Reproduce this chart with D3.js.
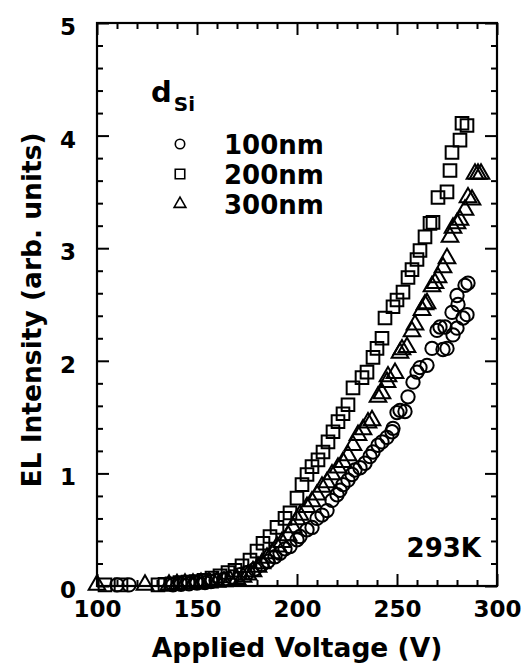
<!DOCTYPE html>
<html>
<head>
<meta charset="utf-8">
<script src="https://cdn.jsdelivr.net/npm/d3@7"></script>
<style>
  html, body { margin: 0; padding: 0; background: #fff; }
  svg { display: block; }
  text { font-family: "DejaVu Sans", "Liberation Sans", Arial, sans-serif; font-weight: bold; fill: #000; }
</style>
</head>
<body>
<svg id="chart" width="525" height="672"></svg>
<script>
// EL intensity vs applied voltage for three Si layer thicknesses (293 K)
const xTicks = [100, 150, 200, 250, 300];
const yTicks = [0, 1, 2, 3, 4, 5];
const seriesNames = ["100nm", "200nm", "300nm"];
const seriesShapes = ["circle", "square", "triangle"];

// d_Si = 100 nm  [V, intensity]
const data100 = [
  [110,0.01],[116,0.01],[138,0.01],[142,0.015],[146,0.02],[150,0.025],[154,0.03],[157,0.04],
  [159.5,0.05],[163.5,0.06],[167.5,0.08],[171.5,0.10],[175.5,0.12],[179,0.15],[182.5,0.19],
  [185.5,0.22],[189,0.26],[191.5,0.29],[194,0.33],[196.5,0.35],[200,0.41],[201.5,0.44],
  [205,0.50],[207.5,0.52],[210,0.60],[212.5,0.63],[215,0.67],[217.5,0.76],[220,0.81],
  [221.5,0.85],[223,0.90],[225.5,0.94],[227.5,0.99],[229,1.03],[231.5,1.05],[234,1.09],
  [236.5,1.15],[238,1.19],[240.5,1.25],[242.5,1.28],[245,1.32],[247.5,1.37],[248,1.40],
  [250,1.54],[251.5,1.56],[254,1.55],[255.5,1.68],[258,1.81],[260,1.90],[261.5,1.94],
  [265,1.96],[267.5,2.11],[270,2.27],[271.5,2.30],[273,2.10],[274,2.30],[275,2.11],
  [277.5,2.43],[278,2.23],[280,2.29],[280,2.58],[280.5,2.50],[283,2.38],[284,2.67],
  [285,2.41],[285.5,2.69]
];

// d_Si = 200 nm
const data200 = [
  [104,0.01],[112,0.01],[130.5,0.01],[134,0.015],[137.5,0.02],[141.5,0.03],[145.5,0.035],
  [149.5,0.04],[153.5,0.05],[157.5,0.07],[161.5,0.09],[165.5,0.12],[169,0.14],[172.5,0.18],
  [176.5,0.23],[180,0.31],[183,0.38],[186.5,0.44],[190,0.52],[194,0.60],[196.5,0.65],
  [200,0.78],[202.5,0.90],[205,0.99],[207.5,1.06],[210.5,1.12],[213,1.19],[215.5,1.28],
  [218,1.37],[220.5,1.46],[223,1.53],[225.5,1.61],[228,1.76],[232.5,1.85],[235,1.90],
  [238,2.03],[240,2.11],[242.5,2.20],[244,2.38],[248,2.48],[250,2.54],[253,2.61],
  [255.5,2.74],[257.5,2.81],[260,2.90],[261.5,2.98],[264,3.10],[266.5,3.22],[268,3.23],
  [270.5,3.45],[275,3.50],[276.5,3.69],[277.5,3.85],[281.5,3.96],[282.5,4.11],[285,4.09]
];

// d_Si = 300 nm
const data300 = [
  [100,0.01],[124,0.01],[136,0.01],[140,0.015],[144,0.02],[148,0.02],[152,0.025],[156,0.03],
  [160,0.035],[163.5,0.04],[166.5,0.05],[170,0.06],[173,0.08],[175.5,0.10],[178,0.13],
  [180.5,0.17],[182.5,0.20],[185,0.25],[187.5,0.29],[190,0.35],[192.5,0.39],[195.5,0.45],
  [198,0.52],[200,0.59],[201.5,0.63],[205,0.70],[207.5,0.75],[210,0.81],[212.5,0.88],
  [215,0.92],[217.5,0.99],[220.5,1.05],[223,1.10],[225.5,1.16],[228,1.25],[230.5,1.34],
  [233,1.39],[235.5,1.45],[237.5,1.47],[240.5,1.68],[242.5,1.71],[245,1.81],[245.5,1.86],
  [249,1.89],[251.5,2.07],[252.5,2.10],[255,2.12],[257.5,2.26],[259,2.32],[262.5,2.45],
  [264,2.50],[265,2.51],[267.5,2.66],[269,2.69],[270.5,2.74],[273,2.83],[275,2.91],
  [276.5,3.10],[278,3.18],[280,3.22],[281.5,3.25],[284,3.34],[285.5,3.45],[287.5,3.43],
  [289,3.66],[290.5,3.66],[292,3.66]
];

const seriesData = [data100, data200, data300];

const svg = d3.select("#chart");
const plot = { left: 97, right: 497, top: 23, bottom: 586 };

const x = d3.scaleLinear().domain([100, 300]).range([plot.left, plot.right]);
const y = d3.scaleLinear().domain([0, 5]).range([plot.bottom, plot.top]);

const minorX = d3.range(100, 301, 10).filter(v => v % 50 !== 0);
const minorY = d3.range(0, 5.01, 0.2).map(v => +v.toFixed(1)).filter(v => Math.abs(v - Math.round(v)) > 1e-6);

function styleAxis(g) {
  g.select(".domain").remove();
  g.selectAll(".tick line").attr("stroke", "#000").attr("stroke-width", 2);
}

// ticks on all four sides, pointing inward
svg.append("g").attr("transform", `translate(0,${plot.bottom})`)
  .call(d3.axisBottom(x).tickValues(xTicks).tickSize(-12).tickPadding(17).tickFormat(d3.format("d")))
  .call(styleAxis)
  .call(g => g.selectAll("text").attr("font-size", 23).attr("dy", "0.62em"));
svg.append("g").attr("transform", `translate(0,${plot.bottom})`)
  .call(d3.axisBottom(x).tickValues(minorX).tickSize(-6).tickFormat(""))
  .call(styleAxis);
svg.append("g").attr("transform", `translate(0,${plot.top})`)
  .call(d3.axisTop(x).tickValues(xTicks).tickSize(-12).tickFormat(""))
  .call(styleAxis);
svg.append("g").attr("transform", `translate(0,${plot.top})`)
  .call(d3.axisTop(x).tickValues(minorX).tickSize(-6).tickFormat(""))
  .call(styleAxis);

svg.append("g").attr("transform", `translate(${plot.left},0)`)
  .call(d3.axisLeft(y).tickValues(yTicks).tickSize(-12).tickPadding(21).tickFormat(d3.format("d")))
  .call(styleAxis)
  .call(g => g.selectAll("text").attr("font-size", 23).attr("dy", "0.5em"));
svg.append("g").attr("transform", `translate(${plot.left},0)`)
  .call(d3.axisLeft(y).tickValues(minorY).tickSize(-6).tickFormat(""))
  .call(styleAxis);
svg.append("g").attr("transform", `translate(${plot.right},0)`)
  .call(d3.axisRight(y).tickValues(yTicks).tickSize(-12).tickFormat(""))
  .call(styleAxis);
svg.append("g").attr("transform", `translate(${plot.right},0)`)
  .call(d3.axisRight(y).tickValues(minorY).tickSize(-6).tickFormat(""))
  .call(styleAxis);

// frame
svg.append("rect")
  .attr("x", plot.left).attr("y", plot.top)
  .attr("width", plot.right - plot.left).attr("height", plot.bottom - plot.top)
  .attr("fill", "none").attr("stroke", "#000").attr("stroke-width", 2.2);

// markers
const symbolType = { circle: d3.symbolCircle, square: d3.symbolSquare, triangle: d3.symbolTriangle };
const symbolSize = { circle: 140, square: 160, triangle: 120 };

seriesData.forEach((pts, i) => {
  const shape = seriesShapes[i];
  const gen = d3.symbol().type(symbolType[shape]).size(symbolSize[shape]);
  svg.append("g").attr("class", "series-" + seriesNames[i])
    .selectAll("path").data(pts).join("path")
    .attr("transform", d => `translate(${x(d[0])},${y(d[1])})`)
    .attr("d", gen)
    .attr("fill", "none").attr("stroke", "#000").attr("stroke-width", 2);
});

// legend
const legend = svg.append("g");
const dsi = legend.append("text").attr("x", 151).attr("y", 102).attr("font-size", 29);
dsi.append("tspan").text("d");
dsi.append("tspan").attr("font-size", 20).attr("dy", 9).attr("dx", 2).text("Si");

const legendSize = { circle: 70, square: 90, triangle: 60 };
seriesNames.forEach((name, i) => {
  const shape = seriesShapes[i];
  const cy = 144 + i * 30;
  legend.append("path")
    .attr("transform", `translate(180,${cy})`)
    .attr("d", d3.symbol().type(symbolType[shape]).size(legendSize[shape])())
    .attr("fill", "none").attr("stroke", "#000").attr("stroke-width", 1.6);
  legend.append("text").attr("x", 224).attr("y", cy + 10)
    .attr("font-size", 26).text(name);
});

// temperature label
svg.append("text").attr("x", 481).attr("y", 557).attr("text-anchor", "end")
  .attr("font-size", 26).text("293K");

// axis titles
svg.append("text").attr("x", 297).attr("y", 657).attr("text-anchor", "middle")
  .attr("font-size", 26.5).text("Applied Voltage (V)");
svg.append("text").attr("transform", "translate(41,310) rotate(-90)").attr("text-anchor", "middle")
  .attr("font-size", 26.5).text("EL Intensity (arb. units)");
</script>
</body>
</html>
